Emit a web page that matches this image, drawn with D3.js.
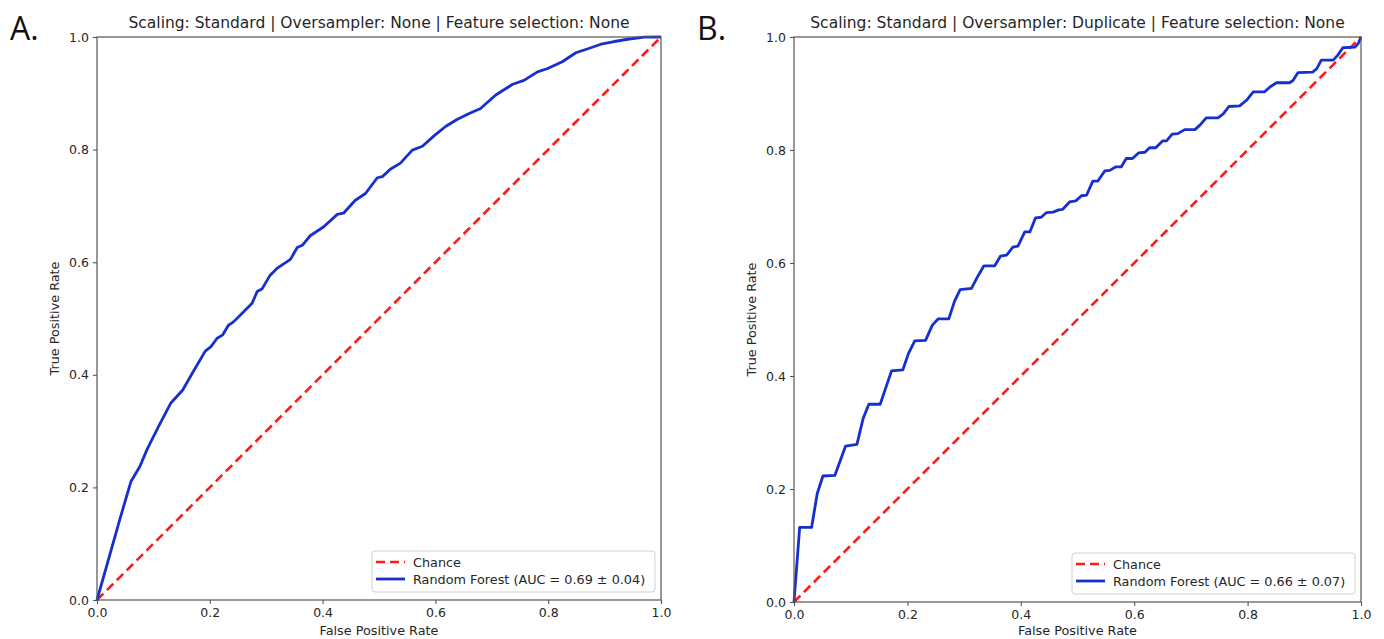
<!DOCTYPE html>
<html>
<head>
<meta charset="utf-8">
<script src="https://cdn.jsdelivr.net/npm/d3@7"></script>
<style>
    body { margin: 0; background: #fff; }
    svg { display: block; font-family: "DejaVu Sans", sans-serif; }
</style>
</head>
<body>
<div id="chart"></div>
<script>
// ROC points
let fprA = [0, 0.041, 0.060, 0.076, 0.089, 0.109, 0.131, 0.152, 0.172, 0.192, 0.202, 0.213, 0.223, 0.233, 0.242, 0.260, 0.275,
    0.284, 0.293, 0.307, 0.319, 0.343, 0.355, 0.364, 0.378, 0.402, 0.426, 0.437, 0.458, 0.476, 0.497, 0.506, 0.520, 0.538, 0.559,
    0.577, 0.597, 0.618, 0.639, 0.660, 0.680, 0.707, 0.737, 0.757, 0.781, 0.799, 0.825, 0.849, 0.873, 0.896, 0.917, 0.941, 0.970, 1.0];
let tprA = [0, 0.145, 0.210, 0.237, 0.268, 0.308, 0.350, 0.373, 0.408, 0.442, 0.450, 0.465, 0.471, 0.488, 0.494, 0.512, 0.527,
    0.548, 0.553, 0.577, 0.589, 0.605, 0.626, 0.630, 0.647, 0.663, 0.685, 0.687, 0.710, 0.722, 0.750, 0.752, 0.765, 0.776, 0.799,
    0.806, 0.824, 0.841, 0.854, 0.864, 0.873, 0.897, 0.916, 0.923, 0.938, 0.944, 0.956, 0.972, 0.980, 0.988, 0.992, 0.996, 0.9996, 1.0];

let fprB = [0, 0.010, 0.031, 0.041, 0.051, 0.072, 0.091, 0.111, 0.122, 0.132, 0.152, 0.172, 0.192, 0.202, 0.213, 0.232, 0.244,
    0.254, 0.273, 0.283, 0.293, 0.313, 0.325, 0.335, 0.354, 0.364, 0.375, 0.386, 0.395, 0.407, 0.416, 0.426, 0.436, 0.445, 0.457,
    0.467, 0.474, 0.486, 0.497, 0.507, 0.516, 0.527, 0.536, 0.548, 0.557, 0.567, 0.577, 0.586, 0.597, 0.608, 0.619, 0.627, 0.638,
    0.650, 0.657, 0.667, 0.677, 0.689, 0.707, 0.716, 0.727, 0.748, 0.757, 0.767, 0.786, 0.798, 0.810, 0.830, 0.840, 0.851, 0.874,
    0.880, 0.889, 0.915, 0.922, 0.930, 0.951, 0.959, 0.968, 0.989, 0.995, 1.0];
let tprB = [0, 0.132, 0.132, 0.192, 0.223, 0.224, 0.276, 0.279, 0.325, 0.350, 0.350, 0.409, 0.411, 0.440, 0.462, 0.463, 0.490,
    0.501, 0.501, 0.532, 0.553, 0.555, 0.578, 0.595, 0.595, 0.612, 0.614, 0.628, 0.630, 0.655, 0.655, 0.680, 0.681, 0.689, 0.690,
    0.694, 0.695, 0.708, 0.710, 0.719, 0.720, 0.745, 0.745, 0.763, 0.764, 0.770, 0.770, 0.785, 0.785, 0.795, 0.796, 0.804, 0.804,
    0.816, 0.816, 0.828, 0.829, 0.836, 0.836, 0.844, 0.857, 0.857, 0.864, 0.877, 0.878, 0.888, 0.903, 0.903, 0.912, 0.919, 0.919,
    0.923, 0.937, 0.938, 0.944, 0.959, 0.959, 0.968, 0.981, 0.982, 0.988, 1.0];

let chanceX = [0, 1];
let chanceY = [0, 1];

let tickValues = [0, 0.2, 0.4, 0.6, 0.8, 1.0];
let panelLetters = ["A.", "B."];
let titles = [
    "Scaling: Standard | Oversampler: None | Feature selection: None",
    "Scaling: Standard | Oversampler: Duplicate | Feature selection: None"
];
let legendLabels = [
    ["Chance", "Random Forest (AUC = 0.69 \u00b1 0.04)"],
    ["Chance", "Random Forest (AUC = 0.66 \u00b1 0.07)"]
];

let svg = d3.select("#chart").append("svg")
    .attr("width", 1384)
    .attr("height", 639);

class RocVis {
    constructor(_svg, _box, _fpr, _tpr, _letter, _title, _legend) {
        this.svg = _svg;
        this.box = _box;
        this.fpr = _fpr;
        this.tpr = _tpr;
        this.letter = _letter;
        this.title = _title;
        this.legend = _legend;

        this.initVis();
    }

    initVis() {
        let vis = this;
        let b = vis.box;

        vis.width = b.width;
        vis.height = b.height;

        vis.g = vis.svg.append("g")
            .attr("transform", "translate(" + b.left + "," + b.top + ")");

        // Scales and Axes
        vis.x = d3.scaleLinear().domain([0, 1]).range([0, vis.width]);
        vis.y = d3.scaleLinear().domain([0, 1]).range([vis.height, 0]);

        vis.xAxis = d3.axisBottom(vis.x).tickValues(tickValues).tickFormat(d3.format(".1f"))
            .tickSizeInner(4).tickSizeOuter(0).tickPadding(4);
        vis.yAxis = d3.axisLeft(vis.y).tickValues(tickValues).tickFormat(d3.format(".1f"))
            .tickSizeInner(4).tickSizeOuter(0).tickPadding(4);

        vis.line = d3.line()
            .x(d => vis.x(d[0]))
            .y(d => vis.y(d[1]));

        vis.wrangleData();
    }

    wrangleData() {
        let vis = this;

        vis.rocPoints = vis.fpr.map((f, i) => [f, vis.tpr[i]]);
        vis.chancePoints = chanceX.map((f, i) => [f, chanceY[i]]);

        vis.updateVis();
    }

    updateVis() {
        let vis = this;

        // chance line first, model curve on top
        vis.g.append("path")
            .datum(vis.chancePoints)
            .attr("d", vis.line)
            .attr("fill", "none")
            .attr("stroke", "#ff1a1a")
            .attr("stroke-width", 2.6)
            .attr("stroke-dasharray", "9,5");

        vis.g.append("path")
            .datum(vis.rocPoints)
            .attr("d", vis.line)
            .attr("fill", "none")
            .attr("stroke", "#1530cf")
            .attr("stroke-width", 2.8)
            .attr("stroke-linejoin", "round");

        // axes
        let xg = vis.g.append("g")
            .attr("transform", "translate(0," + vis.height + ")")
            .call(vis.xAxis);
        let yg = vis.g.append("g").call(vis.yAxis);

        [xg, yg].forEach(a => {
            a.select(".domain").remove();
            a.selectAll(".tick line").attr("stroke", "#555").attr("stroke-width", 1.1);
            a.selectAll(".tick text").attr("fill", "#262626").style("font-size", "12.5px")
                .style("font-family", "DejaVu Sans, sans-serif");
        });

        // frame
        vis.g.append("rect")
            .attr("width", vis.width)
            .attr("height", vis.height)
            .attr("fill", "none")
            .attr("stroke", "#555")
            .attr("stroke-width", 1.2);

        // labels
        vis.g.append("text")
            .attr("x", vis.width / 2)
            .attr("y", -9)
            .attr("text-anchor", "middle")
            .style("font-size", "15.5px")
            .attr("fill", "#262626")
            .text(vis.title);

        vis.g.append("text")
            .attr("x", vis.width / 2)
            .attr("y", 635 - vis.box.top)
            .attr("text-anchor", "middle")
            .style("font-size", "12.8px")
            .attr("fill", "#262626")
            .text("False Positive Rate");

        vis.g.append("text")
            .attr("transform", "translate(-38," + vis.height / 2 + ") rotate(-90)")
            .attr("text-anchor", "middle")
            .style("font-size", "12.8px")
            .attr("fill", "#262626")
            .text("True Positive Rate");

        vis.svg.append("text")
            .attr("x", vis.box.letterX)
            .attr("y", 40)
            .style("font-family", "Open Sans, sans-serif")
            .style("font-size", "32px")
            .attr("fill", "#111")
            .text(vis.letter);

        // legend, lower right
        let lw = 283, lh = 41;
        let leg = vis.g.append("g")
            .attr("transform", "translate(" + (vis.width - lw - 6) + "," + (vis.height - lh - 8) + ")");

        leg.append("rect")
            .attr("width", lw)
            .attr("height", lh)
            .attr("rx", 3)
            .attr("fill", "white")
            .attr("fill-opacity", 0.8)
            .attr("stroke", "#d0d0d0");

        let styles = [
            { stroke: "#ff1a1a", dash: "9,5", w: 2.6 },
            { stroke: "#1530cf", dash: null, w: 2.8 }
        ];

        vis.legend.forEach((lab, i) => {
            let yy = 11 + i * 17;
            leg.append("line")
                .attr("x1", 4).attr("x2", 33)
                .attr("y1", yy).attr("y2", yy)
                .attr("stroke", styles[i].stroke)
                .attr("stroke-width", styles[i].w)
                .attr("stroke-dasharray", styles[i].dash);
            leg.append("text")
                .attr("x", 41)
                .attr("y", yy + 4.7)
                .style("font-size", "12.8px")
                .attr("fill", "#262626")
                .text(lab);
        });
    }
}

new RocVis(svg, { left: 97, top: 37, width: 564, height: 563, letterX: 10 }, fprA, tprA, panelLetters[0], titles[0], legendLabels[0]);
new RocVis(svg, { left: 794, top: 37, width: 567, height: 565, letterX: 697 }, fprB, tprB, panelLetters[1], titles[1], legendLabels[1]);
</script>
</body>
</html>
